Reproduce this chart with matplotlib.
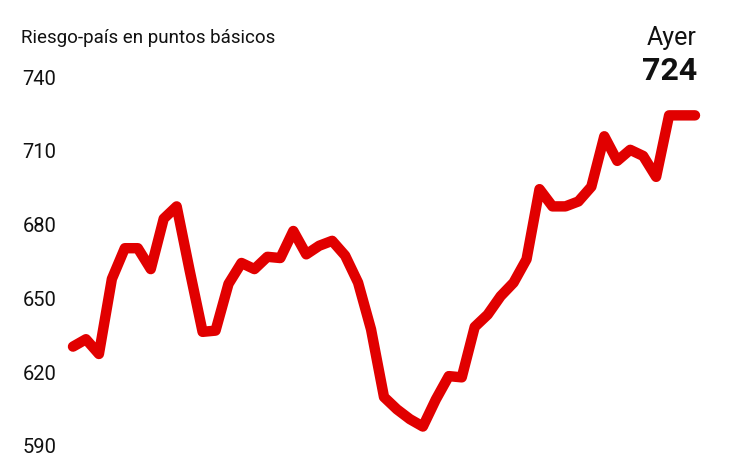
import matplotlib
matplotlib.use("Agg")
import matplotlib.pyplot as plt

values = [630, 633, 627, 657.5, 670, 670, 661.5, 682, 687, 661,
          636, 636.5, 655.5, 664, 661.5, 666.5, 666, 677, 667.5, 671,
          673, 667, 656, 637, 609.5, 604.5, 600.5, 597.5, 608.5, 618,
          617.5, 638, 643, 650.5, 656, 665.5, 694, 687, 687, 689,
          695, 715.5, 705.5, 710, 707.5, 699, 724, 724, 724]
yticks = [590, 620, 650, 680, 710, 740]
title = "Riesgo-país en puntos básicos"
last_label = "Ayer"
last_value = "724"

FONT = ["Roboto", "DejaVu Sans"]
plt.rcParams["font.family"] = FONT

W, H = 730, 460
fig = plt.figure(figsize=(W / 100, H / 100), dpi=100)
ax = fig.add_axes([73 / W, 14 / H, 622 / W, 369 / H])
x = list(range(len(values)))
ax.plot(x, values, color="#E10000", lw=7.5, solid_joinstyle="round",
        solid_capstyle="round", clip_on=False)
ax.set_xlim(0, len(values) - 1)
ax.set_ylim(590, 740)
ax.set_yticks(yticks)
ax.set_yticklabels([str(t) for t in yticks], fontsize=14.5, color="#111111")
ax.tick_params(axis="y", length=0, pad=12)
ax.set_xticks([])
for s in ax.spines.values():
    s.set_visible(False)

fig.text(21 / W, 1 - 43 / H, title, fontsize=13.5, color="#111111", va="baseline", ha="left")
fig.text(697 / W, 1 - 45 / H, last_label, fontsize=18, color="#111111", va="baseline", ha="right")
fig.text(697 / W, 1 - 80 / H, last_value, fontsize=23, fontweight="bold", color="#111111",
         va="baseline", ha="right")

fig.savefig("out.png", dpi=100)
